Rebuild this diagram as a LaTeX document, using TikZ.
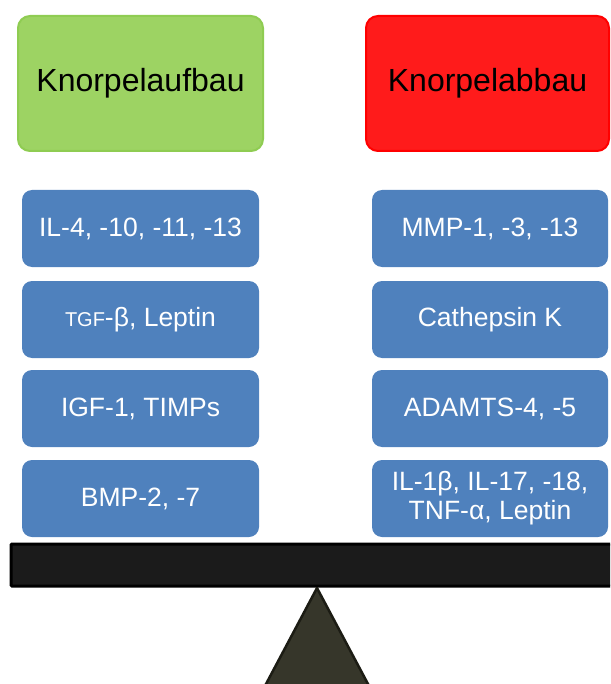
\documentclass[tikz,border=0pt]{standalone}
\usepackage{fontspec}
\setmainfont{Liberation Sans}
\usepackage{xcolor}
\definecolor{aufbaugreen}{HTML}{9DD363}
\definecolor{aufbauborder}{HTML}{8FCC52}
\definecolor{abbaured}{HTML}{FF1B1B}
\definecolor{abbauborder}{HTML}{FF0000}
\definecolor{factorblue}{HTML}{4F81BD}
\definecolor{beamgray}{HTML}{1B1B1B}
\definecolor{pivotolive}{HTML}{36362A}
\definecolor{pivotborder}{HTML}{1C1C14}

\begin{document}
\begin{tikzpicture}[x=1pt,y=-1pt]
  \tikzstyle{title}=[rectangle,rounded corners=12pt,line width=2pt,minimum width=245pt,minimum height=135pt,font=\fontsize{32}{36}\selectfont,text=black]
  \tikzstyle{factor}=[rectangle,rounded corners=10pt,fill=factorblue,minimum width=237pt,minimum height=77pt,font=\fontsize{26.5}{29}\selectfont,text=white,align=center,inner sep=0pt]
  \useasboundingbox (0,0) rectangle (610,684);
  \clip (0,0) rectangle (610,684);
  % heads
  \node[title,fill=aufbaugreen,draw=aufbauborder] (aufbau) at (140.5,83.5) {Knorpelaufbau};
  \node[title,fill=abbaured,draw=abbauborder,minimum width=243pt] (abbau) at (487.5,83.5) {Knorpelabbau};
  % left column
  \node[factor] (il4) at (140.5,228.5) {IL-4, -10, -11, -13};
  \node[factor] (tgf) at (140.5,319.5) {{\fontsize{20}{22}\selectfont TGF}-β, Leptin};
  \node[factor] (igf) at (140.5,408.5) {IGF-1, TIMPs};
  \node[factor] (bmp) at (140.5,498.5) {BMP-2, -7};
  % right column
  \node[factor,minimum width=236pt] (mmp) at (490,228.5) {MMP-1, -3, -13};
  \node[factor,minimum width=236pt] (cath) at (490,319.5) {Cathepsin K};
  \node[factor,minimum width=236pt] (adamts) at (490,408.5) {ADAMTS-4, -5};
  \node[factor,minimum width=236pt] (il1) at (490,498.5) {IL-1β, IL-17, -18,\\TNF-α, Leptin};
  % balance
  \draw[fill=beamgray,draw=black,line width=3pt,rounded corners=1pt] (11,544) rectangle (630,586);
  \draw[fill=pivotolive,draw=pivotborder,line width=2.5pt,line join=round] (317,588) -- (376.5,700) -- (257.5,700) -- cycle;
\end{tikzpicture}
\end{document}
